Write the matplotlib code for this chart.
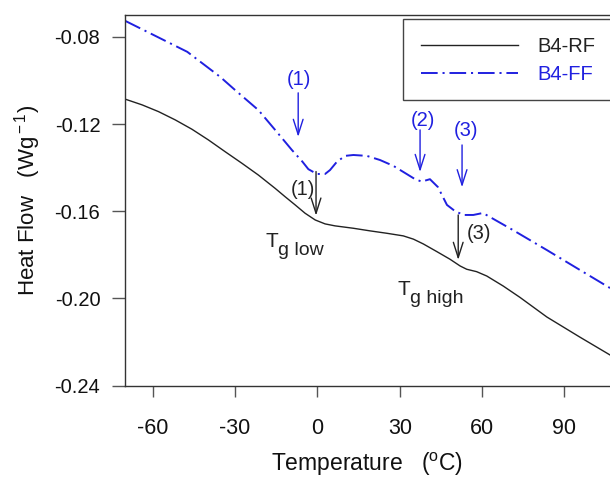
import matplotlib
matplotlib.use("Agg")
import matplotlib.pyplot as plt
from matplotlib.patches import Rectangle

plt.rcParams['font.family'] = ['Liberation Sans', 'DejaVu Sans']
plt.rcParams['mathtext.fontset'] = 'custom'
plt.rcParams['mathtext.rm'] = 'Liberation Sans'
plt.rcParams['mathtext.it'] = 'Liberation Sans'
plt.rcParams['lines.scale_dashes'] = False

# ---- data ----
rf_temp = [-70.0, -63.9, -57.9, -51.8, -45.7, -39.7, -33.6, -27.5, -21.5, -15.4,
           -11.8, -8.1, -4.5, -0.8, 2.8, 6.4, 13.1, 19.2, 25.3, 31.3, 35.0, 38.6,
           43.5, 48.3, 52.0, 54.4, 58.0, 61.7, 67.7, 73.8, 83.6, 95.6, 106.6]
rf_heat = [-0.1086, -0.1112, -0.1143, -0.1181, -0.1224, -0.1273, -0.1327, -0.1380,
           -0.1434, -0.1495, -0.1533, -0.1571, -0.1609, -0.1640, -0.1658, -0.1667,
           -0.1678, -0.1690, -0.1701, -0.1713, -0.1728, -0.1750, -0.1785, -0.1820,
           -0.1851, -0.1866, -0.1877, -0.1897, -0.1943, -0.1995, -0.2085, -0.2177,
           -0.2259]

ff_temp = [-70.0, -59.8, -47.4, -35.4, -30.0, -21.5, -15.4, -9.3, -5.5, -3.3, -0.2,
           2.8, 4.6, 7.1, 10.1, 13.1, 18.0, 22.8, 27.7, 32.5, 35.6, 38.0, 41.0, 43.9,
           47.2, 50.1, 53.2, 56.8, 60.3, 71.2, 83.6, 95.6, 106.6]
ff_heat = [-0.0727, -0.0791, -0.0869, -0.0984, -0.1044, -0.1136, -0.1227, -0.1319,
           -0.1372, -0.1407, -0.1429, -0.1429, -0.1411, -0.1373, -0.1346, -0.1342,
           -0.1346, -0.1365, -0.1392, -0.1429, -0.1453, -0.1464, -0.1453, -0.1489,
           -0.1571, -0.1599, -0.1617, -0.1617, -0.1608, -0.1686, -0.1778, -0.1869,
           -0.1952]

series_labels = ['B4-RF', 'B4-FF']
x_ticks = [-60, -30, 0, 30, 60, 90]
y_ticks = [-0.24, -0.20, -0.16, -0.12, -0.08]

# annotations: (label, text_x, text_y, arrow_x, tail_y, tip_y, colour key)
marks = [
    ('(1)', -6.8, -0.0998, -7.0, -0.1057, -0.1259, 'ff'),
    ('(2)', 38.3, -0.1184, 37.4, -0.1227, -0.1420, 'ff'),
    ('(3)', 54.0, -0.1229, 52.7, -0.1296, -0.1490, 'ff'),
    ('(1)', -5.4, -0.1498, -0.5, -0.1418, -0.1620, 'rf'),
    ('(3)', 58.9, -0.1700, 51.3, -0.1617, -0.1823, 'rf'),
]
tg_labels = [('T', 'g low', -19.0, -0.1764), ('T', 'g high', 29.0, -0.1984)]

BLUE = '#2020e0'
DARK = '#222222'
colors = {'rf': DARK, 'ff': BLUE}

fig = plt.figure(figsize=(6.1, 4.78), dpi=100)
ax = fig.add_axes([125/610, 1 - 385.7/478, 485/610, (385.7 - 15)/478])

ax.plot(rf_temp, rf_heat, color=DARK, lw=1.0, label=series_labels[0])
ax.plot(ff_temp, ff_heat, color=BLUE, lw=1.4, linestyle=(0, (12, 3.5, 1.5, 3.5)),
        label=series_labels[1])

ax.set_xlim(-70.1, 106.6)
ax.set_ylim(-0.24, -0.070)
ax.set_xticks(x_ticks)
ax.set_xticklabels([str(v) for v in x_ticks])
ax.set_yticks(y_ticks)
ax.set_yticklabels([f'{v:.2f}' for v in y_ticks])

ax.spines['right'].set_visible(False)
for s in ['left', 'top', 'bottom']:
    ax.spines[s].set_color('#333333')
    ax.spines[s].set_linewidth(1.0)
ax.tick_params(axis='y', direction='out', length=9.4, width=1.0, color='#555555',
               labelsize=14.5, pad=8.4, labelcolor='#111111')
ax.tick_params(axis='x', direction='out', length=8, width=1.0, color='#555555',
               labelsize=15.5, pad=15.5, labelcolor='#111111')

ax.set_xlabel(r'Temperature   ($^{\rm o}$C)', fontsize=16.5, labelpad=8.5, color='#111111')
ax.set_ylabel(r'Heat Flow   (Wg$^{\rm -1}$)', fontsize=16, labelpad=8.5, color='#111111')

# legend frame (cropped at the right edge, as in the reference)
x0 = (403 - 125) / 485
y_top = (385.7 - 19) / 370.7
y_bot = (385.7 - 100) / 370.7
ax.add_patch(Rectangle((x0, y_bot), 0.5, y_top - y_bot, transform=ax.transAxes,
                       fill=True, facecolor='white', edgecolor='#444444', lw=1.0,
                       clip_on=False, zorder=4))
leg = ax.legend(loc='upper left', bbox_to_anchor=(x0, y_top),
                borderaxespad=0, fontsize=14.5, handlelength=4.8, handletextpad=0.95,
                labelspacing=0.42, borderpad=0.9, frameon=False)
leg.set_zorder(5)
leg.get_texts()[0].set_color(DARK)
leg.get_texts()[1].set_color(BLUE)

for lab, tx, ty, axx, tail, tip, ck in marks:
    c = colors[ck]
    ax.text(tx, ty, lab, fontsize=14.5, color=c, ha='center', va='center')
    ax.annotate('', xy=(axx, tip), xytext=(axx, tail),
                arrowprops=dict(arrowstyle='->,head_length=1.1,head_width=0.35',
                                mutation_scale=10, color=c, lw=1.0,
                                shrinkA=0, shrinkB=0))

for big, sub, tx, ty in tg_labels:
    ax.text(tx, ty, big, fontsize=15, color=DARK, ha='left', va='baseline')
    ax.annotate(sub, xy=(tx, ty), xytext=(9, -6), textcoords='offset points',
                fontsize=14, color=DARK, ha='left', va='baseline')

fig.savefig('out.png', dpi=100)
